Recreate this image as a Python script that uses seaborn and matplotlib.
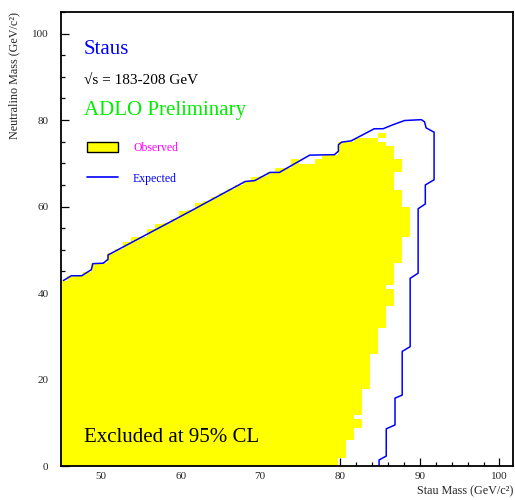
import numpy as np
import pandas as pd
import matplotlib
matplotlib.use("Agg")
import matplotlib.pyplot as plt
import seaborn as sns
from matplotlib.colors import ListedColormap
from matplotlib.patches import Patch
from matplotlib.lines import Line2D
from matplotlib.ticker import MultipleLocator

# ---------------- data ----------------
# Observed excluded region: grid of 1 GeV cells.
# column left edges (stau mass, GeV)
obs_col_edges = np.arange(44.8, 89.0, 1.0)
# upper edge of the yellow region in each column (neutralino mass, GeV)
obs_col_top = [42.9, 43.9, 43.9, 44.9, 46.9, 46.9, 49.2, 50.2, 51.9, 52.9,
               52.9, 54.9, 55.9, 56.2, 57.2, 58.9, 59.2, 60.9, 61.2, 62.2,
               63.2, 64.0, 65.0, 65.9, 66.9, 67.0, 67.9, 68.9, 68.9, 70.9,
               69.9, 69.9, 70.9, 71.9, 71.9, 74.9, 74.9, 75.9, 75.9, 75.9,
               76.9, 76.9, 76.9, 76.9]
# horizontal bands (lower edge in neutralino mass) and right edge of yellow in each band
obs_band_lo = [0.0, 1.9, 5.9, 8.9, 10.9, 11.9, 17.9, 25.9, 31.9, 36.9, 40.9,
               41.9, 46.9, 52.9, 59.9, 63.9, 67.9, 70.9, 73.9, 74.9, 75.9]
obs_band_right = [79.8, 80.8, 81.8, 82.8, 81.8, 82.8, 83.8, 84.8, 85.8, 86.8, 85.8,
                  86.8, 87.8, 88.8, 87.8, 86.8, 87.8, 86.8, 85.8, 84.8, 85.8]
obs_band_top = 76.9

# Expected limit contour
exp_x = [45.3, 46.3, 47.6, 48.8, 49.0, 50.3, 50.9, 50.9, 61.2, 66.2, 68.1, 69.3,
         71.2, 72.4, 76.2, 79.3, 79.8, 79.8, 80.2, 81.4, 84.3, 85.4, 86.6, 88.1,
         90.2, 90.6, 90.8, 91.8, 91.8, 90.7, 90.7, 89.8, 89.8, 88.8, 88.8, 87.8,
         87.8, 86.9, 86.9, 85.8, 85.8, 84.9, 84.9]
exp_y = [42.9, 44.0, 44.0, 45.4, 46.8, 46.9, 47.8, 48.8, 58.9, 63.9, 65.8, 66.0,
         67.9, 67.9, 71.9, 72.0, 72.8, 74.3, 74.9, 75.2, 78.0, 78.0, 78.9, 79.9,
         80.1, 79.6, 78.2, 77.2, 66.2, 65.0, 60.6, 59.5, 44.6, 43.4, 27.6, 26.5,
         16.4, 15.7, 9.5, 8.6, 2.3, 1.4, 0.0]

x_ticks = [50, 60, 70, 80, 90, 100]
y_ticks = [0, 20, 40, 60, 80, 100]

# ---------------- style ----------------
sns.set_style("ticks")
plt.rcParams["font.family"] = ["Liberation Serif", "DejaVu Serif"]

fig = plt.figure(figsize=(5.15, 5.0), dpi=100)
ax = fig.add_axes([61 / 515, 34 / 500, 452 / 515, 454 / 500])

# observed region as a cell mask
y_edges = np.arange(0.0, 77.05, 0.1)
yc = 0.5 * (y_edges[:-1] + y_edges[1:])
band_idx = np.searchsorted(np.array(obs_band_lo), yc, side="right") - 1
right_of_y = np.array(obs_band_right)[band_idx]
col_lo = obs_col_edges[:-1]
top = np.array(obs_col_top)
mask = (yc[:, None] < top[None, :]) & (col_lo[None, :] < right_of_y[:, None]) \
       & (yc[:, None] < obs_band_top)
Z = np.where(mask, 1.0, np.nan)
ax.pcolormesh(obs_col_edges, y_edges, Z, cmap=ListedColormap(["#ffff00"]),
              vmin=0, vmax=1, shading="flat", edgecolors="none", antialiased=False)

df = pd.DataFrame({"x": exp_x, "y": exp_y})
sns.lineplot(data=df, x="x", y="y", sort=False, estimator=None,
             color="#0000ff", linewidth=1.1, ax=ax)

ax.set_xlim(45, 101.7)
ax.set_ylim(0, 105)
ax.set_xticks(x_ticks)
ax.set_yticks(y_ticks)
ax.xaxis.set_minor_locator(MultipleLocator(2))
ax.yaxis.set_minor_locator(MultipleLocator(5))
ax.tick_params(which="both", direction="in", top=False, right=False,
               color="black", width=0.9, labelsize=8)
ax.tick_params(which="major", length=6)
ax.tick_params(which="minor", length=3.2)
ax.tick_params(axis="x", which="major", pad=4.5)
ax.tick_params(axis="y", which="major", pad=9)
for s in ax.spines.values():
    s.set_color("black")
    s.set_linewidth(1.3)

ax.set_xlabel("Stau Mass (GeV/c²)", fontsize=8.7)
ax.xaxis.set_label_coords(1.0, -25.7 / 454)
ax.xaxis.label.set_ha("right")
ax.xaxis.label.set_va("center")
ax.set_ylabel("Neutralino Mass (GeV/c²)", fontsize=8.7)
ax.yaxis.label.set_rotation_mode("anchor")
ax.yaxis.label.set_ha("right")
ax.yaxis.label.set_va("center")
ax.yaxis.set_label_coords(-47 / 452, 1.0)

# annotations
ax.text(23 / 452, 1 - 37 / 454, "Staus", color="#0000ff", fontsize=15,
        transform=ax.transAxes, va="center", ha="left")
ax.text(23 / 452, 1 - 68.7 / 454, "√s = 183-208 GeV", color="black", fontsize=11,
        transform=ax.transAxes, va="center", ha="left")
ax.text(23 / 452, 1 - 98 / 454, "ADLO Preliminary", color="#00ee00", fontsize=15,
        transform=ax.transAxes, va="center", ha="left")
ax.text(23 / 452, 1 - 426 / 454, "Excluded at 95% CL", color="black", fontsize=15,
        transform=ax.transAxes, va="center", ha="left")

handles = [Patch(facecolor="#ffff00", edgecolor="black", linewidth=1.0),
           Line2D([], [], color="#0000ff", lw=1.2)]
leg = ax.legend(handles, ["Observed", "Expected"], loc="upper left",
                bbox_to_anchor=(26 / 452, 1 - 130 / 454), frameon=False,
                fontsize=8.5, handlelength=2.6, handleheight=0.9,
                handletextpad=1.3, labelspacing=1.6, borderpad=0, borderaxespad=0)
leg.get_texts()[0].set_color("#ff00ff")
leg.get_texts()[1].set_color("#0000ff")

fig.savefig("out.png", dpi=100)
